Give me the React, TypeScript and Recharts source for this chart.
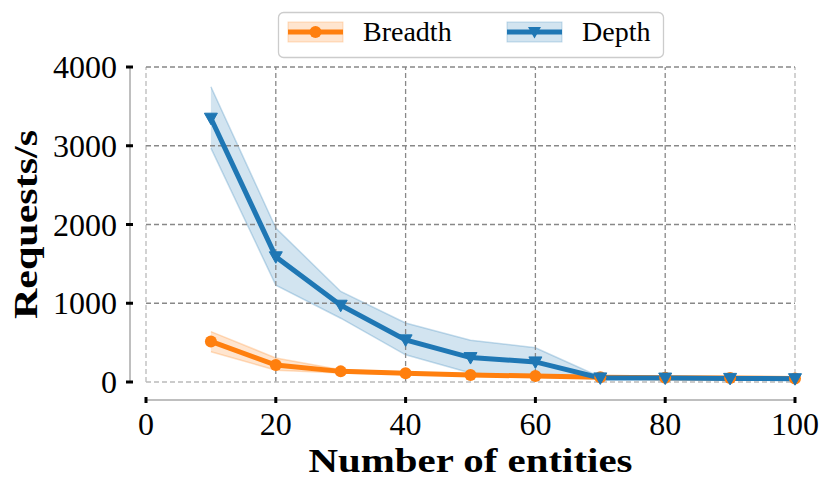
import React from 'react';
import { ComposedChart, Line, Area, XAxis, YAxis, ReferenceLine, Legend } from 'recharts';

const entities = [10, 20, 30, 40, 50, 60, 70, 80, 90, 100];
const breadth = [515, 215, 135, 110, 90, 75, 60, 55, 52, 45];
const breadthLow = [385, 150, 115, 95, 75, 60, 50, 45, 42, 38];
const breadthHigh = [640, 305, 155, 125, 105, 90, 70, 65, 60, 55];
const depth = [3350, 1590, 975, 535, 310, 255, 52, 50, 46, 42];
const depthLow = [2970, 1230, 810, 345, 115, 60, 40, 40, 35, 32];
const depthHigh = [3750, 1955, 1150, 750, 530, 435, 65, 60, 56, 52];
const xTicks = [0, 20, 40, 60, 80, 100];
const yTicks = [0, 1000, 2000, 3000, 4000];

const ORANGE = '#ff7f0e';
const BLUE = '#1f77b4';
const FONT = '"Liberation Serif", "Times New Roman", serif';

const data = entities.map((x, i) => ({
  x,
  breadth: breadth[i],
  breadthBand: [breadthLow[i], breadthHigh[i]],
  depth: depth[i],
  depthBand: [depthLow[i], depthHigh[i]],
}));

const XTick = (props: any) => {
  const { x, y, payload } = props;
  return (
    <text x={x} y={y} dy={45} textAnchor="middle" fontFamily={FONT} fontSize={32} fill="#000">
      {payload.value}
    </text>
  );
};

const YTick = (props: any) => {
  const { x, y, payload } = props;
  return (
    <text x={x - 20} y={y} dy={11} textAnchor="end" fontFamily={FONT} fontSize={32} fill="#000">
      {payload.value}
    </text>
  );
};

const TriDown = (props: any) => {
  const { cx, cy, index } = props;
  if (cx == null || cy == null) return <g key={index} />;
  return (
    <path
      key={index}
      d={`M${cx - 6.5},${cy - 5} L${cx + 6.5},${cy - 5} L${cx},${cy + 6.5} Z`}
      fill={BLUE}
      stroke={BLUE}
      strokeWidth={1}
    />
  );
};

const LegendBox = () => (
  <svg width={386} height={46} style={{ display: 'block', overflow: 'visible' }}>
    <rect x={0.5} y={0.5} width={385} height={45} rx={5} ry={5} fill="#fff" fillOpacity={0.8} stroke="#cccccc" strokeWidth={1.3} />
    <rect x={10} y={10} width={55} height={20} fill={ORANGE} fillOpacity={0.2} stroke={ORANGE} strokeOpacity={0.25} />
    <line x1={10} y1={20} x2={65} y2={20} stroke={ORANGE} strokeWidth={5} />
    <circle cx={37.5} cy={20} r={6} fill={ORANGE} />
    <text x={85} y={29} fontFamily={FONT} fontSize={28} fill="#000">Breadth</text>
    <rect x={229} y={10} width={55} height={20} fill={BLUE} fillOpacity={0.2} stroke={BLUE} strokeOpacity={0.25} />
    <line x1={229} y1={20} x2={284} y2={20} stroke={BLUE} strokeWidth={5} />
    <path d={`M${256.5 - 6.5},${15} L${256.5 + 6.5},${15} L${256.5},${26.5} Z`} fill={BLUE} />
    <text x={304} y={29} fontFamily={FONT} fontSize={28} fill="#000">Depth</text>
  </svg>
);

const XLabel = (props: any) => {
  const vb = props.viewBox || { x: 146, y: 382, width: 649, height: 110 };
  const cx = vb.x + vb.width / 2;
  return (
    <text x={cx} y={vb.y + 90} textAnchor="middle" fontFamily={FONT} fontSize={34} fontWeight="bold" fill="#000"
      textLength={324} lengthAdjust="spacingAndGlyphs">
      Number of entities
    </text>
  );
};

const YLabel = (props: any) => {
  const vb = props.viewBox || { x: 0, y: 67, width: 146, height: 315 };
  const cy = vb.y + vb.height / 2;
  const x = 37;
  return (
    <text x={x} y={cy} textAnchor="middle" fontFamily={FONT} fontSize={34} fontWeight="bold" fill="#000"
      transform={`rotate(-90, ${x}, ${cy})`} textLength={189} lengthAdjust="spacingAndGlyphs">
      Requests/s
    </text>
  );
};

export default function App() {
  return (
    <div style={{ position: 'absolute', left: 0, top: 0, width: 831, height: 492, background: '#fff' }}>
      <ComposedChart width={831} height={492} data={data} margin={{ top: 67, right: 36, bottom: 0, left: 0 }}>
        <XAxis
          dataKey="x"
          type="number"
          domain={[0, 100]}
          ticks={xTicks}
          height={110}
          tick={<XTick />}
          tickSize={6}
          axisLine={{ stroke: '#aaaaaa', strokeWidth: 1.5, transform: 'translate(0,18)' }}
          tickLine={{ stroke: '#000', strokeWidth: 3, transform: 'translate(0,15)' }}
          label={{ content: (p: any) => <XLabel {...p} /> }}
        />
        <YAxis
          type="number"
          domain={[0, 4000]}
          ticks={yTicks}
          width={146}
          tick={<YTick />}
          tickSize={7}
          axisLine={{ stroke: '#aaaaaa', strokeWidth: 1.5, transform: 'translate(-16,0)' }}
          tickLine={{ stroke: '#000', strokeWidth: 3, transform: 'translate(-13,0)' }}
          label={{ content: (p: any) => <YLabel {...p} /> }}
        />
        {xTicks.map((t) => (
          <ReferenceLine key={'vx' + t} x={t} stroke={t === 0 || t === 100 ? '#bbbbbb' : '#888888'} strokeWidth={1.3} strokeDasharray="5 3" />
        ))}
        {yTicks.map((t) => (
          <ReferenceLine key={'hy' + t} y={t} stroke={t === 0 ? '#bbbbbb' : '#888888'} strokeWidth={1.3} strokeDasharray="5 3" />
        ))}
        <Area dataKey="breadthBand" type="linear" fill={ORANGE} fillOpacity={0.2} stroke={ORANGE} strokeOpacity={0.25} strokeWidth={1.5} isAnimationActive={false} legendType="none" />
        <Area dataKey="depthBand" type="linear" fill={BLUE} fillOpacity={0.2} stroke={BLUE} strokeOpacity={0.25} strokeWidth={1.5} isAnimationActive={false} legendType="none" />
        <Line dataKey="breadth" name="Breadth" type="linear" stroke={ORANGE} strokeWidth={5} dot={{ r: 6, fill: ORANGE, stroke: ORANGE, strokeWidth: 0 }} isAnimationActive={false} />
        <Line dataKey="depth" name="Depth" type="linear" stroke={BLUE} strokeWidth={5} dot={TriDown} isAnimationActive={false} />
        <Legend
          layout="horizontal"
          verticalAlign="middle"
          align="center"
          content={() => <LegendBox />}
          wrapperStyle={{ left: 278, top: 12, width: 386, height: 46 }}
        />
      </ComposedChart>
    </div>
  );
}
